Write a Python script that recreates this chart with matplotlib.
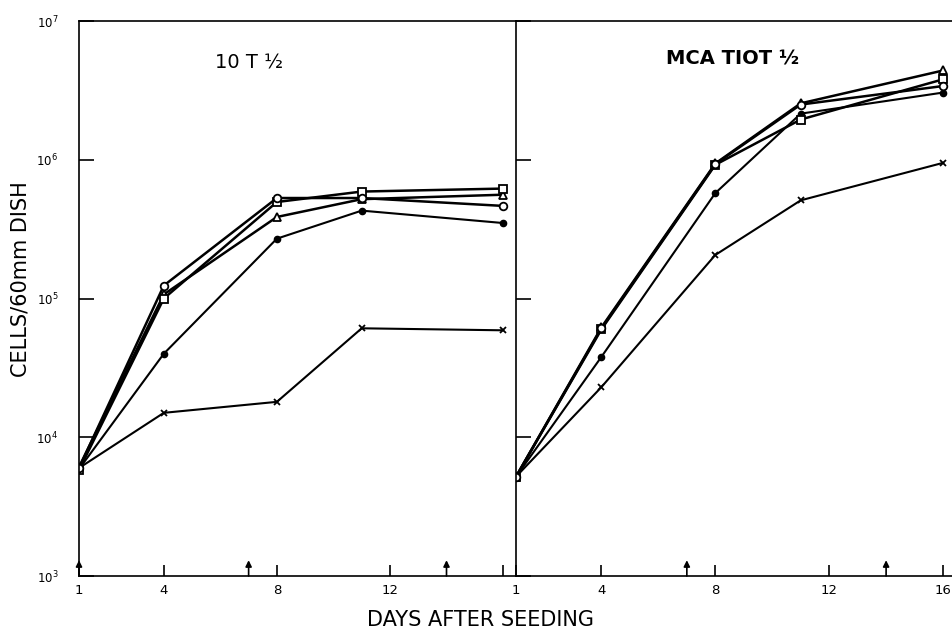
import matplotlib
matplotlib.use("Agg")
import matplotlib.pyplot as plt

# ── Data ────────────────────────────────────────────────────
days = [1, 4, 8, 11, 16]

# 10 T 1/2
ctl_circle = [6.0e3, 1.24e5, 5.3e5, 5.3e5, 4.65e5]
ctl_square = [5.8e3, 1.00e5, 4.96e5, 5.9e5, 6.2e5]
ctl_triangle = [6.1e3, 1.07e5, 3.87e5, 5.2e5, 5.6e5]
ctl_dot = [5.9e3, 4.0e4, 2.7e5, 4.3e5, 3.5e5]
ctl_cross = [6.0e3, 1.5e4, 1.8e4, 6.1e4, 5.9e4]

# MCA T1OT 1/2
mca_circle = [5.2e3, 6.1e4, 9.3e5, 2.5e6, 3.4e6]
mca_square = [5.2e3, 6.0e4, 9.2e5, 1.95e6, 3.8e6]
mca_triangle = [5.2e3, 6.2e4, 9.4e5, 2.55e6, 4.4e6]
mca_dot = [5.2e3, 3.8e4, 5.75e5, 2.15e6, 3.05e6]
mca_cross = [5.2e3, 2.3e4, 2.06e5, 5.1e5, 9.5e5]

left_feed_days = [1, 7, 14]
right_feed_days = [7, 14]
left_ticks = [1, 4, 8, 12, 16]
left_ticklabels = ["1", "4", "8", "12", ""]
right_ticks = [1, 4, 8, 12, 16]
right_ticklabels = ["1", "4", "8", "12", "16"]
y_ticks = [1e3, 1e4, 1e5, 1e6, 1e7]
y_ticklabels = ["$10^3$", "$10^4$", "$10^5$", "$10^6$", "$10^7$"]

# ── Style ───────────────────────────────────────────────────
plt.rcParams.update({
    "font.family": "DejaVu Sans",
    "mathtext.fontset": "dejavusans",
    "axes.linewidth": 1.2,
})

fig = plt.figure(figsize=(9.53, 6.35), dpi=100)
ax_l = fig.add_axes([0.0829, 0.0929, 0.4586, 0.874])
ax_r = fig.add_axes([0.5415, 0.0929, 0.4585, 0.874])

open_kw = dict(color="black", lw=1.8, markersize=5.5, markerfacecolor="white",
               markeredgecolor="black", markeredgewidth=1.3)
dot_kw = dict(color="black", lw=1.5, marker="o", markersize=4.5)
cross_kw = dict(color="black", lw=1.5, marker="x", markersize=4.5,
                markeredgewidth=1.3)


def draw_panel(ax, series, feed_days, ticks, ticklabels, xmax):
    circ, sq, tri, dot, cross = series
    ax.plot(days, cross, **cross_kw)
    ax.plot(days, dot, **dot_kw)
    ax.plot(days, tri, marker="^", **open_kw)
    ax.plot(days, sq, marker="s", **open_kw)
    ax.plot(days, circ, marker="o", **open_kw)
    ax.set_yscale("log")
    ax.set_ylim(1e3, 1e7)
    ax.set_xlim(1, xmax)
    ax.set_xticks(ticks)
    ax.set_xticklabels(ticklabels, fontsize=9.5)
    ax.tick_params(axis="x", direction="in", length=8, width=1.2, pad=6)
    ax.tick_params(axis="y", which="major", direction="in", length=11,
                   width=1.2, pad=15)
    ax.tick_params(axis="y", which="minor", length=0)
    ax.spines["right"].set_visible(False)
    # feeding arrows along the day axis
    for d in feed_days:
        ax.annotate("", xy=(d, 1.3e3), xytext=(d, 1e3),
                    arrowprops=dict(arrowstyle="-|>", color="black", lw=1.2,
                                    mutation_scale=9, shrinkA=0, shrinkB=0),
                    annotation_clip=False)
    for sp in ax.spines.values():
        sp.set_zorder(5)


draw_panel(ax_l, [ctl_circle, ctl_square, ctl_triangle, ctl_dot, ctl_cross],
           left_feed_days, left_ticks, left_ticklabels, 16.46)
draw_panel(ax_r, [mca_circle, mca_square, mca_triangle, mca_dot, mca_cross],
           right_feed_days, right_ticks, right_ticklabels, 16.35)

ax_l.set_yticks(y_ticks)
ax_l.set_yticklabels(y_ticklabels, fontsize=8.5)
ax_r.set_yticks(y_ticks)
ax_r.set_yticklabels([])

ax_l.text(0.39, 0.925, "10 T ½", transform=ax_l.transAxes, fontsize=14,
          ha="center", va="center")
ax_r.text(0.495, 0.932, "MCA TIOT ½", transform=ax_r.transAxes, fontsize=14,
          fontweight="bold", ha="center", va="center")

fig.text(0.504, 0.023, "DAYS AFTER SEEDING", fontsize=15, ha="center",
         va="center")
fig.text(0.021, 0.56, "CELLS/60mm DISH", fontsize=15, rotation=90,
         ha="center", va="center")

plt.savefig("out.png", dpi=100)
